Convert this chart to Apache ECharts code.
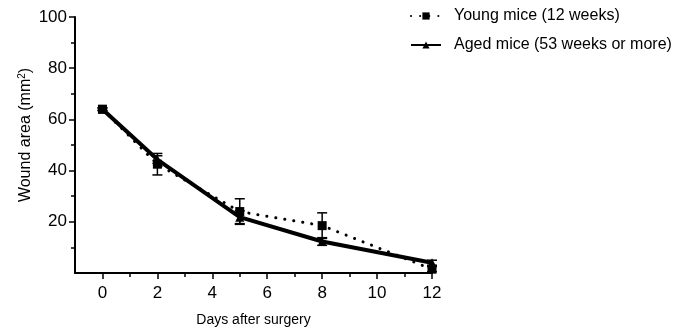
<!DOCTYPE html>
<html>
<head>
<meta charset="utf-8">
<script src="https://cdn.jsdelivr.net/npm/echarts@6/dist/echarts.min.js"></script>
<style>
  html, body { margin: 0; padding: 0; background: #fff; }
  #chart { width: 690px; height: 332px; }
</style>
</head>
<body>
<div id="chart"></div>
<script>
// data
const days = [0, 2, 5, 8, 12];
const youngMean = [64, 42.5, 24, 18.5, 1.5];
const youngErr = [0.5, 4.2, 5, 5, 1];
const agedMean = [64, 44.3, 21.8, 12.3, 4];
const agedErr = [0.5, 1.5, 2.5, 1.5, 1];
const xLabels = [0, 2, 4, 6, 8, 10, 12];
const xMinor = [1, 3, 5, 7, 9, 11];
const yLabels = [20, 40, 60, 80, 100];
const yMinor = [10, 30, 50, 70, 90];

const font = 'Liberation Sans, Arial, sans-serif';

function pairs(xs, ys) {
    return xs.map((x, i) => [x, ys[i]]);
}
function errRows(xs, m, e) {
    return xs.map((x, i) => [x, m[i] - e[i], m[i] + e[i]]);
}

// 误差线
function renderErr(params, api) {
    const x = api.value(0);
    const lo = api.coord([x, api.value(1)]);
    const hi = api.coord([x, api.value(2)]);
    const w = 5;
    const st = { stroke: '#000', lineWidth: 1.5 };
    return {
        type: 'group',
        children: [
            { type: 'line', shape: { x1: lo[0], y1: lo[1], x2: hi[0], y2: hi[1] }, style: st },
            { type: 'line', shape: { x1: hi[0] - w, y1: hi[1], x2: hi[0] + w, y2: hi[1] }, style: st },
            { type: 'line', shape: { x1: lo[0] - w, y1: lo[1], x2: lo[0] + w, y2: lo[1] }, style: st }
        ]
    };
}

const chart = echarts.init(document.getElementById('chart'));

const axisLine = { show: true, onZero: false, lineStyle: { color: '#000', width: 2 } };

chart.setOption({
    animation: false,
    grid: { left: 75, right: 258, top: 17, bottom: 56 },
    legend: {
        orient: 'vertical',
        left: 405,
        top: 3,
        itemWidth: 30,
        itemHeight: 9,
        itemGap: 13,
        textStyle: { fontFamily: font, fontSize: 16, color: '#000', padding: [0, 0, 0, 8] },
        data: ['Young mice (12 weeks)', 'Aged mice (53 weeks or more)']
    },
    xAxis: [{
        type: 'value', min: -1, max: 12, position: 'bottom',
        axisLine: axisLine,
        splitLine: { show: false },
        axisTick: { show: true, length: 6, lineStyle: { color: '#000', width: 1.5 }, customValues: xLabels },
        axisLabel: { customValues: xLabels, fontFamily: font, fontSize: 17, color: '#000', margin: 12 },
        name: 'Days after surgery',
        nameLocation: 'middle',
        nameGap: 40,
        nameTextStyle: { fontFamily: font, fontSize: 14, color: '#000' }
    }, {
        type: 'value', min: -1, max: 12, position: 'bottom',
        axisLine: { show: false },
        splitLine: { show: false },
        axisTick: { show: true, length: 4, lineStyle: { color: '#000', width: 1.5 }, customValues: xMinor },
        axisLabel: { show: false }
    }],
    yAxis: [{
        type: 'value', min: 0, max: 100, position: 'left',
        axisLine: axisLine,
        splitLine: { show: false },
        axisTick: { show: true, length: 6, lineStyle: { color: '#000', width: 1.5 }, customValues: yLabels },
        axisLabel: { customValues: yLabels, fontFamily: font, fontSize: 17, color: '#000', margin: 8 }
    }, {
        type: 'value', min: 0, max: 100, position: 'left',
        axisLine: { show: false, onZero: false },
        splitLine: { show: false },
        axisTick: { show: true, length: 4, lineStyle: { color: '#000', width: 1.5 }, customValues: yMinor },
        axisLabel: { show: false }
    }],
    graphic: [{
        type: 'text',
        x: 26, y: 135,
        rotation: Math.PI / 2,
        style: {
            text: '{a|Wound area (mm}{s|2}{a|)}',
            align: 'center',
            verticalAlign: 'middle',
            rich: {
                a: { fontFamily: font, fontSize: 16, fill: '#000' },
                s: { fontFamily: font, fontSize: 10, fill: '#000', verticalAlign: 'top', padding: [0, 0, 7, 0] }
            }
        }
    }],
    series: [{
        name: 'Young mice (12 weeks)',
        type: 'line',
        data: pairs(days, youngMean),
        symbol: 'rect',
        symbolSize: 9,
        itemStyle: { color: '#000' },
        lineStyle: { color: '#000', width: 3, type: [0.1, 9], cap: 'round' },
        z: 3
    }, {
        name: 'Aged mice (53 weeks or more)',
        type: 'line',
        data: pairs(days, agedMean),
        symbol: 'triangle',
        symbolSize: 9,
        itemStyle: { color: '#000' },
        lineStyle: { color: '#000', width: 4 },
        z: 4
    }, {
        type: 'custom',
        renderItem: renderErr,
        data: errRows(days, youngMean, youngErr),
        z: 5
    }, {
        type: 'custom',
        renderItem: renderErr,
        data: errRows(days, agedMean, agedErr),
        z: 5
    }]
});
</script>
</body>
</html>
